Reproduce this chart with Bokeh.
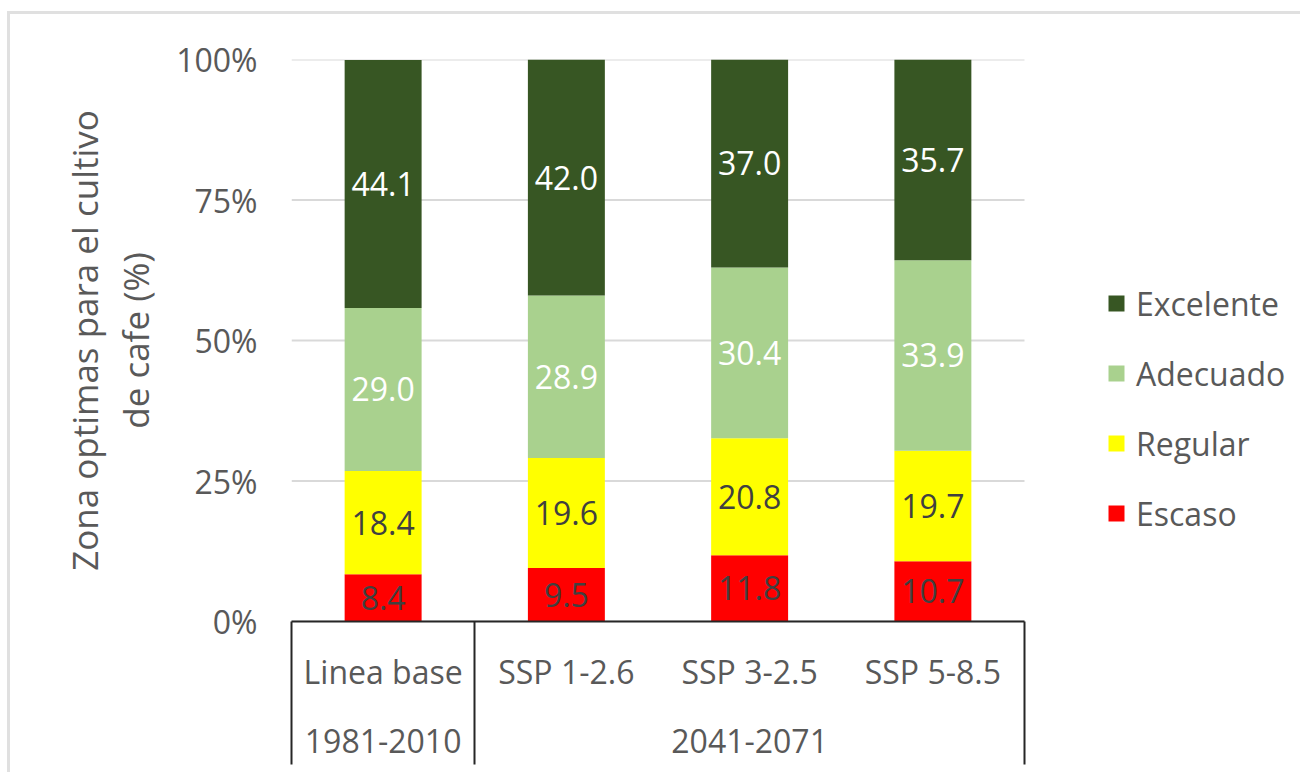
import numpy as np
from bokeh.plotting import figure
from bokeh.models import (ColumnDataSource, Range1d, LinearAxis, FixedTicker,
                          PrintfTickFormatter, Legend, LegendItem)
from bokeh.core.properties import value
from bokeh.embed import file_html
from bokeh.resources import INLINE

# ---------------- data ----------------
scenarios = ["Linea base", "SSP 1-2.6", "SSP 3-2.5", "SSP 5-8.5"]
periods = ["1981-2010", "2041-2071"]
period_span = [1, 3]          # number of scenarios in each period
series = ["Escaso", "Regular", "Adecuado", "Excelente"]
escaso = [8.4, 9.5, 11.8, 10.7]
regular = [18.4, 19.6, 20.8, 19.7]
adecuado = [29.0, 28.9, 30.4, 33.9]
excelente = [44.1, 42.0, 37.0, 35.7]
y_ticks = [0, 25, 50, 75, 100]

colors = ["#FF0000", "#FFFF00", "#A9D18E", "#375623"]
label_colors = ["#404040", "#404040", "#FFFFFF", "#FFFFFF"]
FONT = "Open Sans"
GRAY = "#595959"
LINE = "#262626"

values = [escaso, regular, adecuado, excelente]
n = len(scenarios)
x_centers = np.arange(n) + 0.5
bounds = np.concatenate([[0], np.cumsum(period_span)]).astype(float)
period_centers = (bounds[:-1] + bounds[1:]) / 2

src = ColumnDataSource(dict(x=x_centers, **{s: v for s, v in zip(series, values)}))

# layout (pixels)
W, H = 1300, 772
LEFT, TOP, BOTTOM = 291, 59, 151
cat_px = 183.25                       # pixels per category
x_end = (W - LEFT) / cat_px           # extra room on the right for the legend

p = figure(width=W, height=H,
           x_range=Range1d(0, x_end), y_range=Range1d(0, 100),
           output_backend="svg", toolbar_location=None, x_axis_location=None,
           min_border_left=LEFT, min_border_right=0,
           min_border_top=TOP, min_border_bottom=BOTTOM,
           outline_line_color=None, background_fill_color="white",
           border_fill_color=None)
p.styles = {"box-shadow": ("inset 0 11px 0 0 #ffffff, inset 7px 0 0 0 #ffffff, "
                           "inset 0 14px 0 0 #e0e0e0, inset 10px 0 0 0 #e0e0e0")}
p.xgrid.visible = False
p.ygrid.visible = False

# y axis
yt = FixedTicker(ticks=y_ticks, minor_ticks=[])
p.yaxis.ticker = yt
p.yaxis.formatter = PrintfTickFormatter(format="%d%%")
p.yaxis.axis_line_color = None
p.yaxis.major_tick_line_color = None
p.yaxis.major_tick_out = 0
p.yaxis.major_tick_in = 0
p.yaxis.minor_tick_line_color = None
p.yaxis.minor_tick_out = 0
p.yaxis.major_label_text_font = FONT
p.yaxis.major_label_text_font_size = "32px"
p.yaxis.major_label_text_color = GRAY
p.yaxis.major_label_standoff = 34
p.yaxis.axis_label = "Zona optimas para el cultivo\nde cafe (%)"
p.yaxis.axis_label_text_font = FONT
p.yaxis.axis_label_text_font_size = "35px"
p.yaxis.axis_label_text_font_style = "normal"
p.yaxis.axis_label_text_color = GRAY
p.yaxis.axis_label_text_line_height = 1.09
p.yaxis.axis_label_standoff = 14

# horizontal gridlines limited to the category area
p.segment(x0=[0] * len(y_ticks), x1=[n] * len(y_ticks), y0=y_ticks, y1=y_ticks,
          line_color="#D9D9D9", line_width=2)

# category axis (row 1 + separator lines)
SEP = 143
ax1 = LinearAxis(ticker=FixedTicker(ticks=list(x_centers), minor_ticks=list(bounds)),
                 major_label_overrides={float(c): s for c, s in zip(x_centers, scenarios)},
                 bounds=(0, n))
ax1.axis_line_color = LINE
ax1.axis_line_width = 2
ax1.major_tick_line_color = None
ax1.major_tick_out = 0
ax1.major_tick_in = 0
ax1.minor_tick_line_color = LINE
ax1.minor_tick_line_width = 2
ax1.minor_tick_in = 0
ax1.minor_tick_out = SEP
ax1.major_label_text_font = FONT
ax1.major_label_text_font_size = "32px"
ax1.major_label_text_color = GRAY
ax1.major_label_standoff = 28 - SEP
p.add_layout(ax1, "below")

# period axis (row 2)
ax2 = LinearAxis(ticker=FixedTicker(ticks=list(period_centers), minor_ticks=[]),
                 major_label_overrides={float(c): s for c, s in zip(period_centers, periods)},
                 bounds=(0, n))
ax2.axis_line_color = None
ax2.major_tick_line_color = None
ax2.major_tick_out = 0
ax2.major_tick_in = 0
ax2.minor_tick_line_color = None
ax2.minor_tick_out = 0
ax2.major_label_text_font = FONT
ax2.major_label_text_font_size = "32px"
ax2.major_label_text_color = GRAY
ax2.major_label_standoff = 33
p.add_layout(ax2, "below")

# stacked bars
rends = p.vbar_stack(series, x="x", width=0.42, color=colors, line_color=None, source=src)

# data labels
bottom = np.zeros(n)
for vals, lc in zip(values, label_colors):
    v = np.array(vals)
    mid = bottom + v / 2
    p.text(x=x_centers, y=mid, text=[f"{a:.1f}" for a in v],
           text_align="center", text_baseline="middle",
           text_font=value(FONT), text_font_size="32px", text_color=lc)
    bottom = bottom + v

legend = Legend(items=[LegendItem(label=s, renderers=[r])
                       for s, r in reversed(list(zip(series, rends)))],
                location=(815, 86), orientation="vertical",
                glyph_width=20, glyph_height=20, label_height=44, spacing=26,
                padding=0, margin=0, label_standoff=10,
                label_text_font=FONT, label_text_font_size="32px",
                label_text_color=GRAY, border_line_color=None,
                background_fill_alpha=0)
p.add_layout(legend, "center")

open("out.html", "w").write(file_html(p, INLINE))
